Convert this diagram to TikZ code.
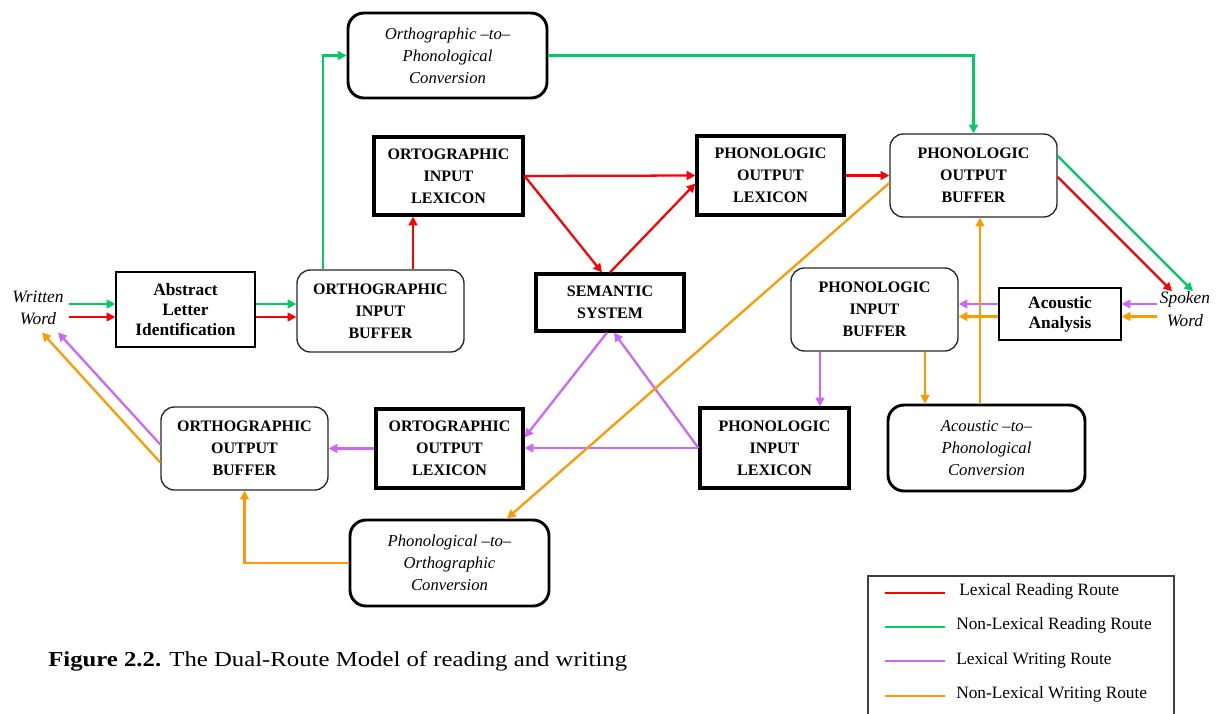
\documentclass[tikz,border=0pt]{standalone}
\usepackage{fontspec}
\setmainfont{Liberation Serif}
\newfontfamily\capfont[FakeStretch=1.16]{Liberation Serif}
\usetikzlibrary{arrows.meta,calc}
\definecolor{cR}{RGB}{255,0,0}
\definecolor{cG}{RGB}{0,204,96}
\definecolor{cP}{RGB}{204,102,255}
\definecolor{cO}{RGB}{255,153,0}
\begin{document}
\begin{tikzpicture}[x=0.75pt,y=-0.75pt,
  every node/.style={inner sep=0pt},
  sz/.style 2 args={minimum width=#1*0.75pt, minimum height=#2*0.75pt, align=center},
  bf/.style={font=\bfseries\fontsize{12}{16.5}\selectfont},
  bfs/.style={font=\bfseries\fontsize{13}{15}\selectfont},
  itl/.style={font=\itshape\fontsize{12.5}{16.5}\selectfont},
  rbox/.style={draw=black!85, line width=1pt, rounded corners=10pt, bf},
  rboxT/.style={draw, line width=2.2pt, rounded corners=12pt, itl},
  sbox/.style={draw, line width=1pt, bfs},
  sboxT/.style={draw, line width=2.4pt, bf},
  arr/.style={line width=1.7pt, -{Triangle[length=6.5pt,width=6.5pt]}},
  R/.style={arr, draw=cR},
  G/.style={arr, draw=cG},
  P/.style={arr, draw=cP},
  O/.style={arr, draw=cO},
  legline/.style={line width=1.8pt},
  legtext/.style={anchor=west, font=\fontsize{13}{15}\selectfont},
  word/.style={align=center, font=\itshape\fontsize{13}{17}\selectfont}
]
\useasboundingbox (0,0) rectangle (1222,714);

% nodes
\node[rboxT, sz={199}{85}] (opc) at (447.5,55.5) {Orthographic –to–\\Phonological\\Conversion};
\node[sboxT, sz={149}{78}] (oil) at (448.5,176) {ORTOGRAPHIC\\INPUT\\LEXICON};
\node[sboxT, sz={147}{79}] (pol) at (770.5,175.5) {PHONOLOGIC\\OUTPUT\\LEXICON};
\node[rbox, sz={167}{83}] (pob) at (973.5,175.5) {PHONOLOGIC\\OUTPUT\\BUFFER};
\node[sbox, sz={139}{75}] (ali) at (185.5,309.5) {Abstract\\Letter\\Identification};
\node[rbox, sz={167}{82}] (oib) at (380.5,311) {ORTHOGRAPHIC\\INPUT\\BUFFER};
\node[sboxT, sz={148}{57}] (sem) at (610,302.5) {SEMANTIC\\SYSTEM};
\node[rbox, sz={167}{83}] (pib) at (874.5,309.5) {PHONOLOGIC\\INPUT\\BUFFER};
\node[sbox, sz={122}{52}] (aa) at (1060,314) {Acoustic\\Analysis};
\node[rbox, sz={167}{83}] (oob) at (244.5,448.5) {ORTHOGRAPHIC\\OUTPUT\\BUFFER};
\node[sboxT, sz={147}{79}] (ool) at (449.5,448.5) {ORTOGRAPHIC\\OUTPUT\\LEXICON};
\node[sboxT, sz={149}{80}] (pil) at (774.5,448) {PHONOLOGIC\\INPUT\\LEXICON};
\node[rboxT, sz={197}{86}] (apc) at (986.5,448) {Acoustic –to–\\Phonological\\Conversion};
\node[rboxT, sz={199}{86}] (poc) at (449.5,563) {Phonological –to–\\Orthographic\\Conversion};
\node[word] (ww) at (38,308) {Written\\Word};
\node[word] (sw) at (1185,309) {Spoken\\Word};

% green / red input side
\coordinate (aliG) at ($(ali.west)+(0,-5.5)$);
\coordinate (aliR) at ($(ali.west)+(0,7.5)$);
\coordinate (aliGe) at ($(ali.east)+(0,-5.5)$);
\coordinate (aliRe) at ($(ali.east)+(0,7.5)$);
\draw[G, shorten <=4pt] (ww.east |- aliG) -- (aliG);
\draw[R, shorten <=4pt] (ww.east |- aliR) -- (aliR);
\draw[G] (aliGe) -- (aliGe -| oib.west);
\draw[R] (aliRe) -- (aliRe -| oib.west);
\coordinate (oibG) at ($(oib.north)+(-57.5,0)$);
\draw[G] (oibG) |- (opc.west);
\draw[G] (opc.east) -| (pob.north);
\draw[G] ($(pob.east)+(0,-19.5)$) -- ($(sw.north)+(8,0)$);
\draw[R] ($(pob.east)+(0,1.5)$) -- ($(sw.north)+(-13,0)$);

% red
\coordinate (oibR) at ($(oib.north)+(32.5,0)$);
\draw[R] (oibR) -- (oibR |- oil.south);
\draw[R] (oil.east) -- (pol.west);
\draw[R] (oil.east) -- ($(sem.north)+(-8,0)$);
\draw[R] (sem.north) -- ($(pol.west)+(0,8)$);
\draw[R] (pol.east) -- (pob.west);

% purple
\coordinate (aaP) at ($(aa.east)+(0,-10)$);
\coordinate (aaPw) at ($(aa.west)+(0,-10)$);
\draw[P, shorten <=2pt] (sw.west |- aaP) -- (aaP);
\draw[P] (aaPw) -- (aaPw -| pib.east);
\coordinate (pibP) at ($(pib.south)+(-54.5,0)$);
\draw[P] (pibP) -- (pibP |- pil.north);
\draw[P] (pil.west) -- (pil.west -| ool.east);
\draw[P] (pil.west) -- ($(sem.south)+(4,0)$);
\draw[P] ($(sem.south)+(-3,0)$) -- ($(ool.east)+(0,-11)$);
\draw[P] (ool.west) -- (oob.east);
\draw[P] ($(oob.west)+(0,-4)$) -- ($(ww.south)+(20,7)$);

% orange
\coordinate (aaO) at ($(aa.east)+(0,2.5)$);
\coordinate (aaOw) at ($(aa.west)+(0,2.5)$);
\draw[O, shorten <=2pt] (sw.west |- aaO) -- (aaO);
\draw[O] (aaOw) -- (aaOw -| pib.east);
\coordinate (pibO) at ($(pib.south)+(50.5,0)$);
\draw[O] (pibO) -- (pibO |- apc.north);
\coordinate (apcO) at ($(apc.north)+(-6.5,0)$);
\draw[O] (apcO) -- (apcO |- pob.south);
\draw[O] ($(pob.west)+(0,7.5)$) -- ($(poc.north)+(57.5,0)$);
\draw[O] (poc.west) -| (oob.south);
\draw[O] ($(oob.west)+(0,14)$) -- ($(ww.south)+(4,7)$);

% legend
\draw[line width=1pt, black!75] (868,716) -- (868,576) -- (1174,576) -- (1174,716);
\draw[legline, cR] (885,593) -- (945,593);
\draw[legline, cG] (885,627) -- (945,627);
\draw[legline, cP] (885,661) -- (945,661);
\draw[legline, cO] (885,696) -- (945,696);
\node[legtext] (l1) at (959,591) {Lexical Reading Route};
\node[legtext] (l2) at (956,625) {Non-Lexical Reading Route};
\node[legtext] (l3) at (956,660) {Lexical Writing Route};
\node[legtext] (l4) at (956,694) {Non-Lexical Writing Route};

% caption
\node[anchor=west, font=\capfont\fontsize{16}{18}\selectfont] (cap) at (48,661) {\textbf{Figure 2.2.} The Dual-Route Model of reading and writing};
\end{tikzpicture}
\end{document}
